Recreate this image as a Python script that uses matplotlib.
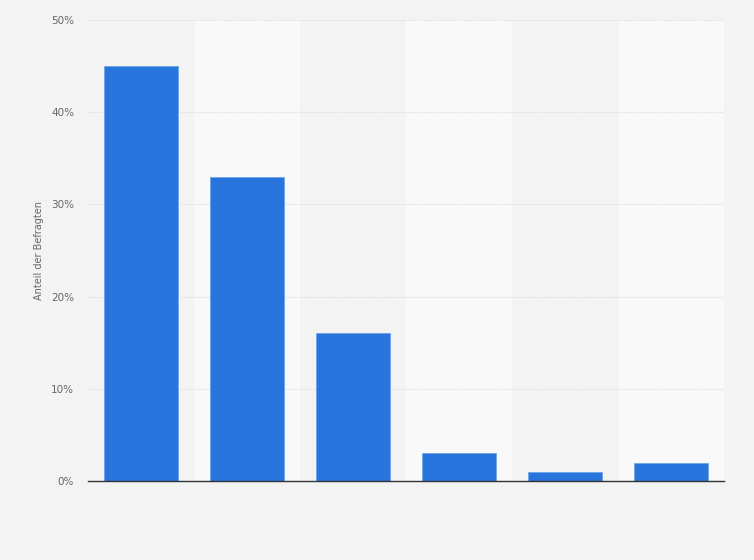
import matplotlib.pyplot as plt
from matplotlib.ticker import FuncFormatter

categories = ['A', 'B', 'C', 'D', 'E', 'F']
values = [45, 33, 16, 3, 1, 2]
y_ticks = [0, 10, 20, 30, 40, 50]

fig = plt.figure(figsize=(7.54, 5.6), dpi=100)
fig.patch.set_facecolor('#f3f3f3')
ax = fig.add_axes([0.1167, 0.1411, 0.8435, 0.8232])
ax.set_facecolor('#f3f3f3')

x = list(range(len(categories)))

# alternating column bands
for i in x:
    if i % 2 == 1:
        ax.axvspan(i - 0.5, i + 0.5, color='#f9f9f9', zorder=0, lw=0)

ax.bar(x, values, width=0.69, color='#2876dd', edgecolor='#6fa3ea', linewidth=0.6, zorder=3)

ax.set_xlim(-0.5, len(categories) - 0.5)
ax.set_ylim(0, 50)
ax.set_yticks(y_ticks)
ax.yaxis.set_major_formatter(FuncFormatter(lambda v, p: f'{int(v)}%'))
ax.set_xticks([])
ax.tick_params(axis='y', length=0, labelsize=7.5, labelcolor='#666666', pad=10)

ax.grid(axis='y', color='#dddddd', linestyle=(0, (1, 1)), linewidth=0.8, zorder=1)
for s in ['top', 'right', 'left']:
    ax.spines[s].set_visible(False)
ax.spines['bottom'].set_color('#333333')
ax.spines['bottom'].set_linewidth(1.0)
ax.spines['bottom'].set_zorder(4)

ax.set_ylabel('Anteil der Befragten', fontsize=7, color='#666666', labelpad=5)

plt.savefig('out.png', dpi=100, facecolor=fig.get_facecolor())
